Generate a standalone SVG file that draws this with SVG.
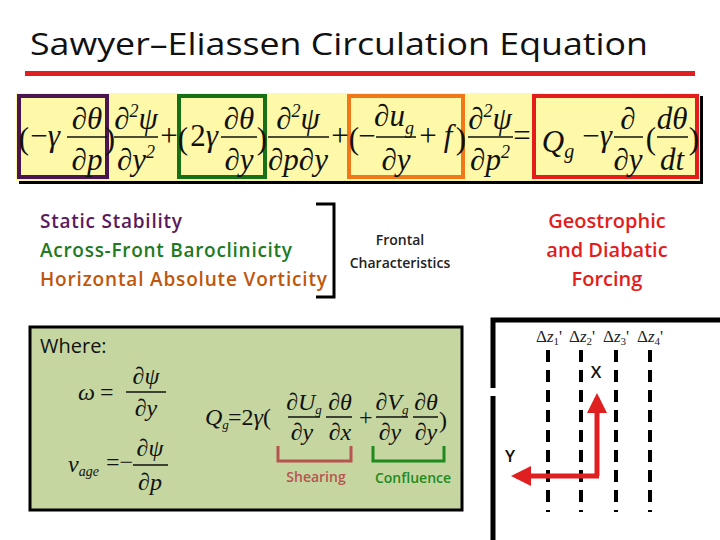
<svg xmlns="http://www.w3.org/2000/svg" width="720" height="540" viewBox="0 0 720 540">
<style>
.t{font-family:"Open Sans","Liberation Sans",sans-serif}
.m{font-family:"Liberation Serif",serif;font-style:italic;font-size:31px;fill:#111}
.mu{font-family:"Liberation Serif",serif;font-size:31px;fill:#111}
.s{font-family:"Liberation Serif",serif;font-style:italic;font-size:24px;fill:#111}
.su{font-family:"Liberation Serif",serif;font-size:24px;fill:#111}
.fl{stroke:#111;stroke-width:1.5}
.dz{stroke:#000;stroke-width:4;stroke-dasharray:12 8}
</style>
<defs>
<marker id="ah" markerWidth="4" markerHeight="4" refX="3" refY="2" orient="auto" markerUnits="strokeWidth"><path d="M0,0L4,2L0,4Z" fill="#e02020"/></marker>
</defs>
<rect width="720" height="540" fill="#fff"/>
<g id="title">
<text x="30" y="55" class="t" font-size="31" font-weight="500" fill="#111" textLength="618" lengthAdjust="spacingAndGlyphs">Sawyer–Eliassen Circulation Equation</text>
<rect x="25" y="71" width="670" height="5" fill="#e02020"/>
</g>
<g id="equation">
<rect x="19" y="96" width="684" height="88" fill="#000"/>
<rect x="16" y="93" width="684" height="88" fill="#fdf9a8"/>
<rect x="19" y="96" width="88" height="81" fill="none" stroke="#4b1650" stroke-width="4"/>
<rect x="179" y="96" width="86" height="81" fill="none" stroke="#167016" stroke-width="4"/>
<rect x="349" y="96" width="114" height="81" fill="none" stroke="#f07818" stroke-width="4"/>
<rect x="534" y="96" width="163" height="81" fill="none" stroke="#e41c1c" stroke-width="4"/>
<g text-anchor="middle">
<text x="24" y="149" class="mu" font-size="44">(</text>
<text x="45" y="146" class="mu">−<tspan class="m">γ</tspan></text>
<text x="87" y="129" class="m">∂θ</text><line x1="67" y1="137" x2="107" y2="137" class="fl"/><text x="87" y="170" class="m">∂p</text>
<text x="110" y="149" class="mu" font-size="44">)</text>
<text x="136" y="129" class="m">∂<tspan font-size="18" dy="-12">2</tspan><tspan dy="12">ψ</tspan></text><line x1="114" y1="137" x2="158" y2="137" class="fl"/><text x="136" y="170" class="m">∂y<tspan font-size="18" dy="-12">2</tspan></text>
<text x="169" y="146" class="mu">+</text>
<text x="183" y="149" class="mu" font-size="44">(</text>
<text x="204" y="146" class="mu">2<tspan class="m">γ</tspan></text>
<text x="239" y="129" class="m">∂θ</text><line x1="221" y1="137" x2="257" y2="137" class="fl"/><text x="239" y="170" class="m">∂y</text>
<text x="262" y="149" class="mu" font-size="44">)</text>
<text x="298" y="129" class="m">∂<tspan font-size="18" dy="-12">2</tspan><tspan dy="12">ψ</tspan></text><line x1="268" y1="137" x2="329" y2="137" class="fl"/><text x="298" y="170" class="m">∂p∂y</text>
<text x="340" y="146" class="mu">+</text>
<text x="354" y="149" class="mu" font-size="44">(</text>
<text x="367" y="146" class="mu">−</text>
<text x="394" y="126" class="m">∂u<tspan font-size="18" dy="8">g</tspan></text><line x1="376" y1="137" x2="416" y2="137" class="fl"/><text x="396" y="170" class="m">∂y</text>
<text x="428" y="146" class="mu">+</text>
<text x="448" y="146" class="m">f</text>
<text x="461" y="149" class="mu" font-size="44">)</text>
<text x="490" y="129" class="m">∂<tspan font-size="18" dy="-12">2</tspan><tspan dy="12">ψ</tspan></text><line x1="468" y1="137" x2="513" y2="137" class="fl"/><text x="490" y="170" class="m">∂p<tspan font-size="18" dy="-12">2</tspan></text>
<text x="522" y="146" class="mu">=</text>
<text x="558" y="152" class="m" font-size="38">Q<tspan font-size="20" dy="6">g</tspan></text>
<text x="597" y="146" class="mu">−<tspan class="m">γ</tspan></text>
<text x="628" y="129" class="m">∂</text><line x1="614" y1="137" x2="643" y2="137" class="fl"/><text x="628" y="170" class="m">∂y</text>
<text x="651" y="149" class="mu" font-size="44">(</text>
<text x="672" y="129" class="m">dθ</text><line x1="657" y1="137" x2="688" y2="137" class="fl"/><text x="672" y="170" class="m">dt</text>
<text x="694" y="149" class="mu" font-size="44">)</text>
</g>
</g>
<g id="labels" class="t" font-size="19" font-weight="600">
<text x="40" y="228" fill="#5b1a5b" textLength="142">Static Stability</text>
<text x="40" y="257" fill="#217a1e" textLength="252">Across-Front Baroclinicity</text>
<text x="40" y="286" fill="#c0560e" textLength="287">Horizontal Absolute Vorticity</text>
</g>
<g id="bracket">
<path d="M316,204H334V297H316" fill="none" stroke="#000" stroke-width="3"/>
<text x="400" y="245" class="t" font-size="14" font-weight="600" text-anchor="middle" fill="#222">Frontal</text>
<text x="400" y="268" class="t" font-size="14" font-weight="600" text-anchor="middle" fill="#222">Characteristics</text>
</g>
<g id="forcing" class="t" font-size="20" font-weight="600" fill="#e41c1c" text-anchor="middle">
<text x="607" y="228">Geostrophic</text>
<text x="607" y="257">and Diabatic</text>
<text x="607" y="286">Forcing</text>
</g>
<g id="where">
<rect x="30" y="327" width="432" height="183" fill="#c5d6a0" stroke="#000" stroke-width="3"/>
<text x="40" y="353" class="t" font-size="20" fill="#111">Where:</text>
<text x="78" y="400" class="s">ω</text><text x="100" y="400" class="su">=</text>
<text x="146" y="384" class="s" text-anchor="middle">∂ψ</text><line x1="126" y1="392" x2="166" y2="392" class="fl" stroke-width="1"/><text x="146" y="416" class="s" text-anchor="middle">∂y</text>
<text x="68" y="472" class="s">v<tspan font-size="14" dy="4">age</tspan></text><text x="106" y="470" class="su">=−</text>
<text x="150" y="456" class="s" text-anchor="middle">∂ψ</text><line x1="133" y1="465" x2="168" y2="465" class="fl" stroke-width="1"/><text x="150" y="490" class="s" text-anchor="middle">∂p</text>
<text x="205" y="425" class="s">Q<tspan font-size="13" dy="4">g</tspan></text>
<text x="228" y="425" class="su">=2<tspan class="s">γ</tspan>(</text>
<text x="304" y="410" class="s" text-anchor="middle">∂U<tspan font-size="13" dy="4">g</tspan></text><line x1="288" y1="417" x2="320" y2="417" class="fl" stroke-width="1"/><text x="302" y="440" class="s" text-anchor="middle">∂y</text>
<text x="340" y="410" class="s" text-anchor="middle">∂θ</text><line x1="326" y1="417" x2="352" y2="417" class="fl" stroke-width="1"/><text x="340" y="440" class="s" text-anchor="middle">∂x</text>
<text x="359" y="425" class="su">+</text>
<text x="392" y="410" class="s" text-anchor="middle">∂V<tspan font-size="13" dy="4">g</tspan></text><line x1="376" y1="417" x2="408" y2="417" class="fl" stroke-width="1"/><text x="390" y="440" class="s" text-anchor="middle">∂y</text>
<text x="426" y="410" class="s" text-anchor="middle">∂θ</text><line x1="413" y1="417" x2="438" y2="417" class="fl" stroke-width="1"/><text x="426" y="440" class="s" text-anchor="middle">∂y</text>
<text x="439" y="428" class="su">)</text>
<path d="M278,446V461H351V446" fill="none" stroke="#b85450" stroke-width="3"/>
<text x="316" y="482" class="t" font-size="14" font-weight="600" fill="#b85450" text-anchor="middle">Shearing</text>
<path d="M373,446V461H444V446" fill="none" stroke="#1f8a1f" stroke-width="3"/>
<text x="413" y="483" class="t" font-size="14" font-weight="600" fill="#1f8a1f" text-anchor="middle">Confluence</text>
</g>
<g id="coords">
<path d="M493,388V320H720" fill="none" stroke="#000" stroke-width="5"/>
<path d="M493,396V540" fill="none" stroke="#000" stroke-width="5"/>
<g font-family="Liberation Serif,serif" font-size="17" fill="#222">
<text x="536" y="342">Δ<tspan font-style="italic">z</tspan><tspan font-size="11" dy="3">1</tspan><tspan dy="-3">'</tspan></text>
<text x="569" y="342">Δ<tspan font-style="italic">z</tspan><tspan font-size="11" dy="3">2</tspan><tspan dy="-3">'</tspan></text>
<text x="603" y="342">Δ<tspan font-style="italic">z</tspan><tspan font-size="11" dy="3">3</tspan><tspan dy="-3">'</tspan></text>
<text x="637" y="342">Δ<tspan font-style="italic">z</tspan><tspan font-size="11" dy="3">4</tspan><tspan dy="-3">'</tspan></text>
</g>
<line x1="548" y1="350" x2="548" y2="512" class="dz"/>
<line x1="581" y1="350" x2="581" y2="512" class="dz"/>
<line x1="616" y1="350" x2="616" y2="512" class="dz"/>
<line x1="650" y1="350" x2="650" y2="512" class="dz"/>
<path d="M597,476V398" stroke="#e02020" stroke-width="5" fill="none" marker-end="url(#ah)"/>
<path d="M599,476H516" stroke="#e02020" stroke-width="5" fill="none" marker-end="url(#ah)"/>
<text x="596" y="378" class="t" font-size="17" font-weight="600" text-anchor="middle" fill="#111">X</text>
<text x="510" y="462" class="t" font-size="17" font-weight="600" text-anchor="middle" fill="#111">Y</text>
</g>
</svg>
